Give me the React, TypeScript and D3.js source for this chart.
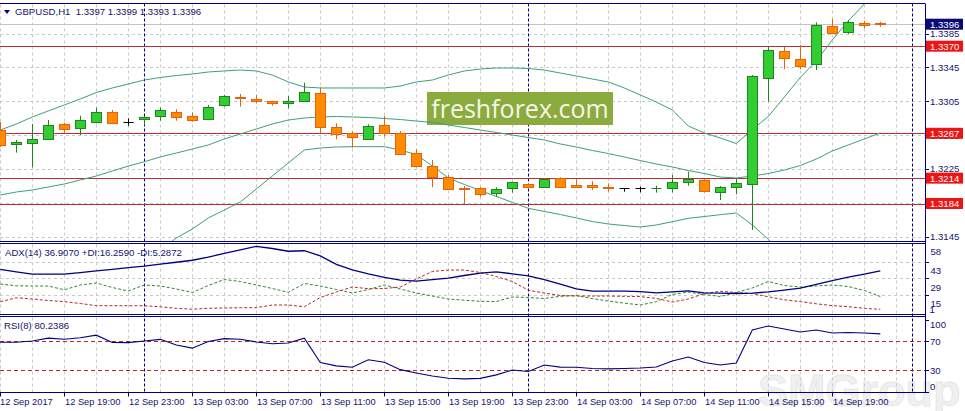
import React from "react";
import * as d3 from "d3";

// ---------- DATA ----------
const barStart = new Date(2017, 8, 12, 15, 0);
const barEnd = new Date(2017, 8, 14, 22, 0);
const barTimes = d3.timeHour.range(barStart, d3.timeHour.offset(barEnd, 1));

const open = [1.32709,1.32544,1.32552,1.32603,1.3278,1.32729,1.32807,1.32918,1.32807,1.32836,1.32875,1.32925,1.32871,1.32836,1.33001,1.33103,1.33072,1.33048,1.33032,1.33052,1.3315,1.32748,1.3267,1.32606,1.32768,1.3267,1.32434,1.32283,1.32157,1.3202,1.3202,1.31961,1.3202,1.32067,1.32039,1.32138,1.32055,1.32055,1.32039,1.3202,1.3202,1.32015,1.32027,1.32098,1.32118,1.3198,1.32032,1.32067,1.33327,1.33643,1.33545,1.33486,1.33939,1.33864,1.33971,1.3397];
const high = [1.32804,1.32591,1.3278,1.32827,1.32795,1.32878,1.32973,1.32946,1.32847,1.32875,1.32973,1.32954,1.32918,1.33005,1.33123,1.33135,1.33123,1.33055,1.33111,1.33268,1.33214,1.32788,1.32689,1.32776,1.32875,1.32697,1.32481,1.32354,1.32177,1.32047,1.32032,1.32032,1.32098,1.32079,1.32133,1.3215,1.32126,1.32103,1.32079,1.32023,1.32039,1.32051,1.32177,1.32216,1.3213,1.32047,1.3213,1.33359,1.33694,1.33694,1.33714,1.33982,1.34021,1.3401,1.34001,1.3399];
const low = [1.32508,1.32441,1.32268,1.32591,1.3267,1.3265,1.32788,1.32776,1.3276,1.32768,1.32819,1.32819,1.32807,1.32827,1.32985,1.32985,1.33025,1.32996,1.32966,1.33044,1.3267,1.32599,1.325,1.32599,1.3263,1.32417,1.32268,1.32032,1.32003,1.31834,1.3192,1.3192,1.31968,1.3202,1.32032,1.32032,1.32032,1.32,1.3198,1.3198,1.31972,1.31968,1.31972,1.32051,1.31972,1.31881,1.31949,1.31527,1.33044,1.33427,1.33427,1.33418,1.33848,1.33844,1.33911,1.3393];
const close = [1.32532,1.32571,1.32603,1.32765,1.32724,1.32827,1.32925,1.32795,1.32807,1.32859,1.32942,1.32859,1.32824,1.32985,1.33107,1.33084,1.33048,1.33025,1.33055,1.33162,1.32741,1.32658,1.32623,1.32756,1.32677,1.32425,1.32283,1.32157,1.32008,1.32012,1.31949,1.32008,1.32091,1.32032,1.32126,1.32039,1.32039,1.32032,1.3202,1.3202,1.3202,1.3202,1.32091,1.3213,1.31991,1.32032,1.32079,1.33347,1.33655,1.33557,1.33469,1.3395,1.33852,1.33982,1.33947,1.3396];

const bbUpper = [1.32709,1.3278,1.32863,1.32934,1.33005,1.33076,1.33152,1.33206,1.33253,1.333,1.3333,1.33353,1.33371,1.33395,1.33407,1.33418,1.33407,1.33359,1.33277,1.33217,1.33206,1.33206,1.33206,1.33206,1.33206,1.33229,1.33277,1.333,1.33359,1.33407,1.3343,1.33442,1.33442,1.33436,1.33418,1.33383,1.33348,1.33312,1.33277,1.33206,1.33123,1.3304,1.32946,1.32756,1.32674,1.32614,1.32549,1.32715,1.32869,1.33099,1.3333,1.33525,1.33773,1.33998,1.34199,1.34388];
const bbMiddle = [1.31941,1.31976,1.32,1.32035,1.32071,1.32118,1.32165,1.32224,1.32283,1.32334,1.3239,1.32437,1.32484,1.32532,1.32603,1.32662,1.32721,1.3278,1.32827,1.32851,1.32863,1.32869,1.32863,1.32857,1.32845,1.32833,1.32815,1.32798,1.32768,1.32739,1.32709,1.3268,1.3265,1.3262,1.32591,1.32544,1.32508,1.32467,1.32431,1.3239,1.32348,1.32307,1.32272,1.3223,1.32195,1.32153,1.32142,1.32165,1.32195,1.32236,1.32289,1.32366,1.32461,1.32532,1.32603,1.32674];
const bbLower = [1.30344,1.30404,1.30486,1.30581,1.30676,1.30782,1.30888,1.30971,1.31054,1.31148,1.3129,1.31432,1.31539,1.31669,1.31763,1.31858,1.32012,1.32165,1.32319,1.32473,1.32496,1.32508,1.32512,1.32512,1.32512,1.32473,1.32419,1.32283,1.32142,1.32065,1.31994,1.31923,1.31854,1.31783,1.31746,1.3171,1.31669,1.31627,1.31598,1.3158,1.31562,1.31586,1.31625,1.31665,1.31686,1.31708,1.31728,1.31586,1.31417,1.31231,1.31077,1.30936,1.30817,1.30723,1.3064,1.30581];

const adx = [36.56,34.53,32.58,32.58,32.58,33.85,35.29,36.56,38,39.36,41.05,42.58,44.27,46.98,50.03,53.08,56.05,54.19,51.9,52.32,48,40.8,36.14,32.75,29.86,27.49,26.64,27.92,29.19,31.39,33.42,34.53,32.83,31.14,27.92,24.1,20.12,18.17,18.17,18.17,17.75,16.73,17.58,18.42,16.73,16.47,16.22,16.56,17.49,19.02,20.71,23.85,27.15,29.95,32.58,35.29];
const plusDI = [24.22,22.7,22.53,22.53,19.32,23.37,25.06,21.26,18.3,23.37,22.53,19.99,17.04,22.95,28.02,26.33,23.37,20.42,17.21,24.64,22.53,19.57,16.61,19.57,23.37,19.99,16.61,14.08,11.55,10.53,9.6,9.44,13.24,12.81,11.97,13.83,14.5,11.89,9.86,8.08,6.48,9.27,15.35,17.46,15.35,13.66,17.04,20.84,26.33,22.95,21.68,22.53,23.37,22.1,18.73,13.66];
const minusDI = [9.27,12.56,11.55,10.28,9.35,7.75,5.97,5.89,5.89,5.89,4.96,3.69,2.93,3.69,3.95,4.2,4.2,6.48,6.48,5.04,12.81,17.46,21.68,20.25,20.42,21.68,28.44,34.77,36.04,36.04,33.93,30.55,26.33,18.98,16.61,14.5,14.08,14.08,14.08,13.83,13.57,12.05,9.01,11.55,16.19,18.05,17.04,16.19,13.41,10.87,9.35,7.49,5.97,5.04,3.69,2.85];
const rsi = [68.62,68.62,70.41,74.28,72.76,74.83,78.41,68.21,68.07,70.41,72.62,64.9,60.48,69.59,73.59,72.76,69.03,66.55,67.66,74.14,40.76,36.07,34.14,44.48,41.03,30.83,26.28,22.14,18.97,18.14,18.83,23.66,30.28,28.34,37.31,34.28,34.14,32.48,31.93,32.48,33.17,34.55,42.83,48.34,40.76,37.31,40.07,85.59,91.1,86.97,82.83,85.59,81.45,82.14,81.45,80.24];

const priceTicks = [1.3145, 1.3185, 1.3225, 1.3265, 1.3305, 1.3345, 1.3385];
const levelLines = [1.337, 1.3267, 1.3214, 1.3184];
const levelLabels = ["1.3370", "1.3267", "1.3214", "1.3184"];
const bidPrice = 1.3396;
const bidLabel = "1.3396";
const adxTicks = [58, 43, 29, 15, 1];
const adxGrid = [43, 29, 15];
const rsiTicks = [100, 70, 30, 0];
const rsiLevels = [70, 30];
const xTickTimes = [0, 4, 8, 12, 16, 20, 24, 28, 32, 36, 40, 44, 48, 52].map((h) => d3.timeHour.offset(barStart, h));
const xTickLabels = ["12 Sep 2017","12 Sep 19:00","12 Sep 23:00","13 Sep 03:00","13 Sep 07:00","13 Sep 11:00","13 Sep 15:00","13 Sep 19:00","13 Sep 23:00","14 Sep 03:00","14 Sep 07:00","14 Sep 11:00","14 Sep 15:00","14 Sep 19:00"];
const daySeparators = [new Date(2017, 8, 13), new Date(2017, 8, 14), new Date(2017, 8, 15)];
const titleText = "GBPUSD,H1  1.3397 1.3399 1.3393 1.3396";
const adxTitle = "ADX(14) 36.9070 +DI:16.2590 -DI:5.2872";
const rsiTitle = "RSI(8) 80.2386";

// ---------- LAYOUT ----------
const W = 965, H = 411;
const RIGHT = 925;
const MAIN = { top: 3.5, bottom: 241.5 };
const ADXP = { top: 243.5, bottom: 314.5 };
const RSIP = { top: 316.5, bottom: 392.5 };
const NAVY = "#000080";
const TXT = "#14146e";
const FONT = "'Liberation Sans', Arial, sans-serif";

const x = d3.scaleTime().domain([barStart, barEnd]).range([0.3, 880.3]);
const yP = d3.scaleLinear().domain([1.3145, 1.3385]).range([236.5, 33.5]);
const yA = d3.scaleLinear().domain([1, 58]).range([311.5, 244]);
const yR = d3.scaleLinear().domain([0, 100]).range([392, 319.5]);

const px = (t: Date) => Math.round(x(t)) + 0.5;
const gridTimes = d3.timeHour.range(barStart, d3.timeHour.offset(barStart, 59), 2);

export default function App() {
  const bandLine = (arr: number[]) =>
    d3.line<number>().x((_, i) => x(barTimes[i])).y((d) => yP(d))(arr) || "";
  const adxLine = (arr: number[]) =>
    d3.line<number>().x((_, i) => x(barTimes[i])).y((d) => yA(d))(arr) || "";
  const rsiPath = d3.line<number>().x((_, i) => x(barTimes[i])).y((d) => yR(d))(rsi) || "";

  const vgrid = (top: number, bottom: number, key: string) =>
    gridTimes.filter((t) => x(t) < RIGHT - 2).map((t, k) => (
      <line key={key + k} x1={px(t)} x2={px(t)} y1={top} y2={bottom} stroke="#c9c9c9" strokeDasharray="3,3" />
    ));

  return (
    <svg width={W} height={H} style={{ position: "fixed", left: 0, top: 0, background: "#fff" }} fontFamily={FONT}>
      <defs>
        <clipPath id="clipMain"><rect x={0} y={MAIN.top + 0.5} width={RIGHT} height={MAIN.bottom - MAIN.top - 1} /></clipPath>
        <clipPath id="clipAdx"><rect x={0} y={ADXP.top + 0.5} width={RIGHT} height={ADXP.bottom - ADXP.top - 1} /></clipPath>
        <clipPath id="clipRsi"><rect x={0} y={RSIP.top + 0.5} width={RIGHT} height={RSIP.bottom - RSIP.top - 1} /></clipPath>
      </defs>
      <rect x={0} y={0} width={W} height={H} fill="#fff" />

      {/* SMGroup watermark */}
      <text x={758} y={406} fontSize={45} fontWeight="bold" fill="#f0f0f0" stroke="#e6e6e6" strokeWidth={0.8}>SMGroup</text>

      {/* grids */}
      {vgrid(MAIN.top + 1, MAIN.bottom, "gm")}
      {vgrid(ADXP.top + 1, ADXP.bottom, "ga")}
      {vgrid(RSIP.top + 1, RSIP.bottom, "gr")}
      {priceTicks.map((p, k) => (
        <line key={"hp" + k} x1={0} x2={RIGHT} y1={Math.round(yP(p)) + 0.5} y2={Math.round(yP(p)) + 0.5} stroke="#c9c9c9" strokeDasharray="3,3" />
      ))}
      {adxGrid.map((v, k) => (
        <line key={"ha" + k} x1={0} x2={RIGHT} y1={Math.round(yA(v)) + 0.5} y2={Math.round(yA(v)) + 0.5} stroke="#c9c9c9" strokeDasharray="3,3" />
      ))}

      {/* bid line */}
      <line x1={0} x2={RIGHT} y1={Math.round(yP(bidPrice)) + 0.5} y2={Math.round(yP(bidPrice)) + 0.5} stroke="#c4c4c4" />

      {/* day separators */}
      {daySeparators.map((t, k) => (
        <line key={"ds" + k} x1={px(t)} x2={px(t)} y1={MAIN.top} y2={RSIP.bottom} stroke={NAVY} strokeDasharray="3,2" />
      ))}

      {/* level lines */}
      {levelLines.map((p, k) => (
        <line key={"lv" + k} x1={0} x2={RIGHT} y1={Math.round(yP(p)) + 0.5} y2={Math.round(yP(p)) + 0.5} stroke="#c42a32" />
      ))}

      {/* freshforex watermark */}
      <rect x={427} y={92} width={186} height={33} fill="#8cab3e" />
      <text x={520} y={118} textAnchor="middle" fontSize={25} fill="#f3f6ea" fontFamily="'Open Sans', sans-serif">freshforex.com</text>

      {/* main panel content */}
      <g clipPath="url(#clipMain)">
        <path d={bandLine(bbUpper)} fill="none" stroke="#3f9f79" strokeWidth={1} />
        <path d={bandLine(bbMiddle)} fill="none" stroke="#3f9f79" strokeWidth={1} />
        <path d={bandLine(bbLower)} fill="none" stroke="#3f9f79" strokeWidth={1} />
        {barTimes.map((t, i) => {
          const cx = px(t);
          const o = open[i], c = close[i], h = high[i], l = low[i];
          const doji = o === c;
          const up = c > o;
          const col = doji ? "#000" : up ? "#1f861f" : "#e5620e";
          const yTop = Math.round(yP(Math.max(o, c))) + 0.5;
          let yBot = Math.round(yP(Math.min(o, c))) + 0.5;
          const thin = Math.abs(yP(o) - yP(c)) < 0.5;
          if (yBot - yTop < 1) yBot = yTop + 1;
          return (
            <g key={"c" + i}>
              <line x1={cx} x2={cx} y1={yP(h)} y2={yP(l)} stroke={col} />
              {doji || thin ? (
                <line x1={cx - 5} x2={cx + 5} y1={yTop} y2={yTop} stroke={col} />
              ) : (
                <rect x={cx - 5} y={yTop} width={10} height={yBot - yTop} fill={up ? "#32cd32" : "#ff8c00"} stroke={col} />
              )}
            </g>
          );
        })}
      </g>

      {/* ADX panel */}
      <g clipPath="url(#clipAdx)">
        <path d={adxLine(plusDI)} fill="none" stroke="#2a8a2a" strokeDasharray="3,2" />
        <path d={adxLine(minusDI)} fill="none" stroke="#b8282a" strokeDasharray="3,2" />
        <path d={adxLine(adx)} fill="none" stroke={NAVY} strokeWidth={1.3} />
      </g>

      {/* RSI panel */}
      {rsiLevels.map((v, k) => (
        <line key={"rl" + k} x1={0} x2={RIGHT} y1={Math.round(yR(v)) + 0.5} y2={Math.round(yR(v)) + 0.5} stroke="#b8282a" strokeDasharray="4,3" />
      ))}
      <g clipPath="url(#clipRsi)">
        <path d={rsiPath} fill="none" stroke={NAVY} strokeWidth={1.1} />
      </g>

      {/* frames */}
      <line x1={0} x2={RIGHT} y1={MAIN.top} y2={MAIN.top} stroke={NAVY} />
      <line x1={0} x2={RIGHT} y1={MAIN.bottom} y2={MAIN.bottom} stroke={NAVY} />
      <line x1={0} x2={RIGHT} y1={ADXP.top} y2={ADXP.top} stroke={NAVY} />
      <line x1={0} x2={RIGHT} y1={ADXP.bottom} y2={ADXP.bottom} stroke={NAVY} />
      <line x1={0} x2={RIGHT} y1={RSIP.top} y2={RSIP.top} stroke={NAVY} />
      <line x1={0} x2={RIGHT} y1={RSIP.bottom} y2={RSIP.bottom} stroke={NAVY} />
      <line x1={RIGHT + 0.5} x2={RIGHT + 0.5} y1={MAIN.top} y2={RSIP.bottom} stroke={NAVY} />

      {/* titles */}
      <path d="M4,10 L10,10 L7,14 Z" fill={NAVY} />
      <text x={15} y={15} fontSize={9.6} fill={TXT} style={{ whiteSpace: "pre" }}>{titleText}</text>
      <text x={5} y={256} fontSize={9.6} fill={TXT}>{adxTitle}</text>
      <text x={4} y={329} fontSize={9.6} fill={TXT}>{rsiTitle}</text>

      {/* price axis */}
      {priceTicks.map((p, k) => (
        <g key={"pt" + k}>
          <line x1={RIGHT} x2={RIGHT + 4} y1={Math.round(yP(p)) + 0.5} y2={Math.round(yP(p)) + 0.5} stroke={NAVY} />
          <text x={930} y={yP(p) + 3.5} fontSize={9.6} fill={TXT}>{d3.format(".4f")(p)}</text>
        </g>
      ))}
      <rect x={926} y={yP(bidPrice) - 5.5} width={37} height={11} fill="#0a0a78" />
      <text x={930} y={yP(bidPrice) + 3.5} fontSize={9.6} fill="#fff">{bidLabel}</text>
      {levelLines.map((p, k) => (
        <g key={"lb" + k}>
          <rect x={926} y={yP(p) - 5.5} width={37} height={11} fill="#ee1414" />
          <text x={930} y={yP(p) + 3.5} fontSize={9.6} fill="#fff">{levelLabels[k]}</text>
        </g>
      ))}

      {/* ADX axis */}
      {adxTicks.map((v, k) => {
        const ty = v === 58 ? 251 : v === 1 ? 309.5 : yA(v) + 9;
        return (
          <g key={"at" + k}>
            {v !== 58 && v !== 1 && <line x1={RIGHT} x2={RIGHT + 4} y1={Math.round(yA(v)) + 0.5} y2={Math.round(yA(v)) + 0.5} stroke={NAVY} />}
            <text x={v === 1 ? 929.5 : 930.5} y={ty + 3.5} fontSize={9.6} fill={TXT}>{v}</text>
          </g>
        );
      })}

      {/* RSI axis */}
      {rsiTicks.map((v, k) => {
        const ty = Math.min(386, Math.max(324.3, yR(v)));
        return (
          <g key={"rt" + k}>
            <line x1={RIGHT} x2={RIGHT + 4} y1={Math.round(yR(v)) + 0.5} y2={Math.round(yR(v)) + 0.5} stroke={NAVY} />
            <text x={930} y={ty + 3.5} fontSize={9.6} fill={TXT}>{v}</text>
          </g>
        );
      })}

      {/* time axis */}
      {xTickTimes.map((t, k) => (
        <g key={"xt" + k}>
          <line x1={px(t)} x2={px(t)} y1={RSIP.bottom} y2={RSIP.bottom + 4} stroke={NAVY} />
          <text x={k === 0 ? 0 : px(t) + 0.5} y={405} fontSize={9.3} fill={TXT}>{xTickLabels[k]}</text>
        </g>
      ))}
    </svg>
  );
}
